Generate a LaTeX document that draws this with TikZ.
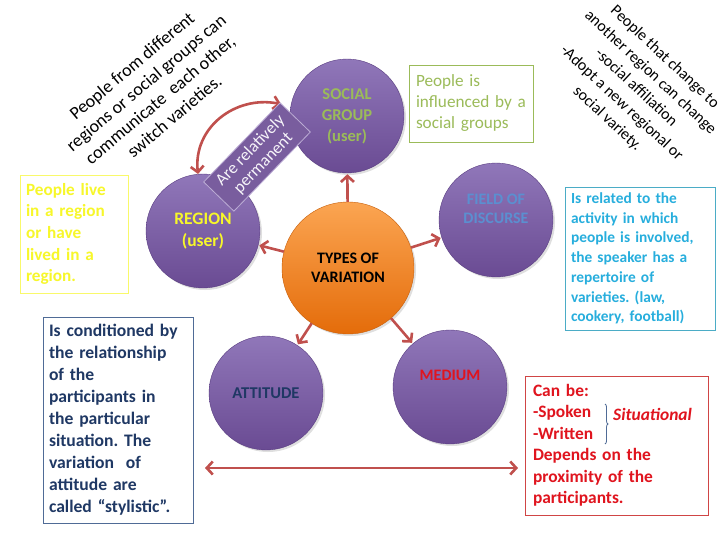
\documentclass[tikz,border=0pt]{standalone}
\usepackage{fontspec}
\setmainfont{Carlito}
\usetikzlibrary{shapes}
\usetikzlibrary{positioning}
\usetikzlibrary{arrows.meta}
\usetikzlibrary{shadows}
\usetikzlibrary{decorations.pathreplacing}
\definecolor{purpL}{HTML}{9077B9}
\definecolor{purpD}{HTML}{6A4B93}
\definecolor{purpB}{HTML}{5B3F82}
\definecolor{orgL}{HTML}{FBA552}
\definecolor{orgD}{HTML}{E46C0A}
\definecolor{orgB}{HTML}{C8600C}
\definecolor{arrowred}{HTML}{C0504D}
\definecolor{ytext}{HTML}{F7F72A}
\definecolor{gtext}{HTML}{9BBB59}
\definecolor{ctext}{HTML}{27AEDD}
\definecolor{cline}{HTML}{4BACC6}
\definecolor{ntext}{HTML}{1F3864}
\definecolor{nline}{HTML}{4F6B96}
\definecolor{rtext}{HTML}{E0141E}
\definecolor{rline}{HTML}{D04545}
\definecolor{ftext}{HTML}{5B8FD0}
\tikzset{
    mynodep/.style = {circle, draw=purpB, top color=purpL, bottom color=purpD, minimum size=114pt, inner sep=0pt, align=center,
      drop shadow={opacity=0.25, shadow xshift=2pt, shadow yshift=-2pt}},
    mynodeo/.style = {circle, draw=orgB, top color=orgL, bottom color=orgD, minimum size=132pt, inner sep=0pt, align=center,
      drop shadow={opacity=0.25, shadow xshift=2pt, shadow yshift=-2pt}},
    infobox/.style = {rectangle, draw, line width=1pt, inner sep=0pt, align=left},
    edger/.style = {-{Straight Barb[length=6pt,width=13pt]},line width=2.6pt,arrowred,shorten >=1pt},
    edgerd/.style = {{Straight Barb[length=6pt,width=13pt]}-{Straight Barb[length=6pt,width=13pt]},line width=2.6pt,arrowred},
    bracket/.style = {decorate,decoration={brace,amplitude=3pt},nline,line width=0.8pt}
}

\begin{document}
\frenchspacing
\begin{tikzpicture}[x=1pt,y=-1pt]
  \fill[white] (0,0) rectangle (728,546);
  \useasboundingbox (0,0) rectangle (728,546);

  % circles
  \node[mynodep, text=gtext, font=\bfseries\fontsize{16.5}{21}\selectfont] at (347,116) (soc) {SOCIAL\\GROUP\\(user)};
  \node[mynodep, text=ytext, font=\bfseries\fontsize{17.5}{22}\selectfont] at (203,231) (reg) {REGION\\(user)};
  \node[mynodep, text=ftext, font=\bfseries\fontsize{16}{19}\selectfont] at (496,220) (fld) {FIELD OF\\DISCURSE\\[4pt]};
  \node[mynodep, text=ntext, font=\bfseries\fontsize{16.5}{19}\selectfont] at (266,393) (att) {ATTITUDE};
  \node[mynodep, text=rtext, font=\bfseries\fontsize{16}{19}\selectfont] at (450,387) (med) {MEDIUM\\[4pt]};
  \node[mynodeo, text=black, font=\bfseries\fontsize{16}{19.5}\selectfont] at (348,268) (var) {TYPES OF\\VARIATION};

  % arrows
  \draw[edger] (var) -- (soc);
  \draw[edger] (var) -- (reg);
  \draw[edger] (var) -- (fld);
  \draw[edger] (var) -- (att);
  \draw[edger] (var) -- (med);
  \draw[edgerd] (reg.95) .. controls (193,128) and (235,95) .. ([xshift=-10pt]soc.168);

  \node[rectangle, rotate=46, fill=purpD!90!white, draw=purpL!60!white, line width=0.8pt, minimum width=110pt, minimum height=42pt,
        inner sep=0pt, align=center, text=white!92!purpL, font=\fontsize{17}{18}\selectfont] at (257,157) (perm) {Are relatively\\permanent};

  % text boxes
  \node[infobox, draw=ytext!70!white, text=ytext, minimum width=108pt, minimum height=118pt, text width=96pt,
        font=\bfseries\fontsize{17.2}{21.7}\selectfont] at (74,234) (yb) {People live\\in a region\\or have\\lived in a\\region.};
  \node[infobox, draw=gtext, line width=0.8pt, text=gtext, minimum width=124pt, minimum height=77pt, text width=110pt,
        font=\fontsize{17.2}{21}\selectfont] at (471,103.5) (gb) {People is\\influenced by a\\social groups};
  \node[infobox, draw=cline, text=ctext, minimum width=150pt, minimum height=143pt, text width=138pt,
        font=\bfseries\fontsize{15.4}{19.7}\selectfont] at (640,258.5) (cb) {Is related to the\\activity in which\\people is involved,\\the speaker has a\\repertoire of\\varieties. (law,\\cookery, football)};
  \node[infobox, draw=nline, text=ntext, minimum width=150pt, minimum height=206pt, text width=138pt,
        font=\bfseries\fontsize{17.6}{22}\selectfont] at (118,420) (nb) {Is conditioned by\\the relationship\\of the\\participants in\\the particular\\situation. The\\variation~ of\\attitude are\\called “stylistic”.};
  \node[infobox, draw=rline, text=rtext, minimum width=183pt, minimum height=139pt, text width=167pt,
        font=\bfseries\fontsize{17.4}{21.5}\selectfont] at (616.5,445.5) (rb) {Can be:\\-Spoken\\-Written\\Depends on the\\proximity of the\\participants.};
  \node[anchor=west, inner sep=0pt, text=rtext, font=\bfseries\itshape\fontsize{17.4}{21.5}\selectfont] at (613,414) (sit) {Situational};
  \coordinate (b1) at (605,404);
  \coordinate (b2) at (605,444);
  \draw[bracket] (b1) -- (b2);

  % double arrow
  \coordinate (hl) at (205,468);
  \coordinate (hr) at (518,468);
  \draw[edgerd] (hl) -- (hr);

  % rotated notes
  \node[rotate=40, align=center, font=\fontsize{18}{22}\selectfont] at (153,91) (tl) {People from different\\regions or social groups can\\communicate~ each other,\\switch varieties.};
  \node[rotate=-43, align=center, font=\fontsize{16}{21}\selectfont] at (636,88) (tr) {People that change to\\another region can change\\-social affiliation\\-Adopt a new regional or\\social variety.};

\end{tikzpicture}
\end{document}
